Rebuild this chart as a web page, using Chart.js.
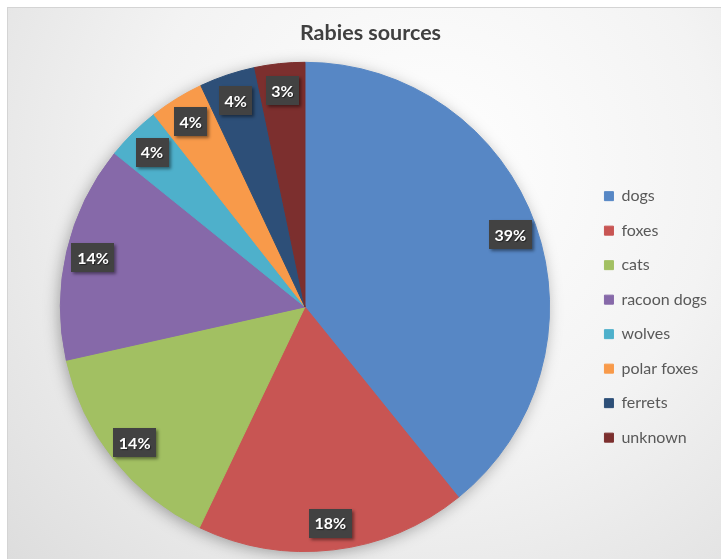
<!DOCTYPE html>
<html>
<head>
<meta charset="utf-8">
<script src="https://cdn.jsdelivr.net/npm/chart.js@4"></script>
<style>
  html, body { margin: 0; padding: 0; background: #ffffff; }
  #wrap { width: 721px; height: 559px; }
</style>
</head>
<body>
<div id="wrap"><canvas id="rabiesChart" width="721" height="559"></canvas></div>
<script>
// Chart data (shares, in percent)
const chartTitle = 'Rabies sources';
const sources = ['dogs', 'foxes', 'cats', 'racoon dogs', 'wolves', 'polar foxes', 'ferrets', 'unknown'];
const shares = [39.2, 17.9, 14.4, 14.3, 3.6, 3.6, 3.7, 3.3];
const sliceColors = ['#5787c5', '#c85553', '#a2c062', '#8669a9', '#4eb0cb', '#f89a4a', '#2d4f78', '#7c2f2e'];

const fontFamily = "Lato, 'Open Sans', sans-serif";

/**
 * Panel background: white page with a soft grey radial gradient frame
 */
const panelBackground = {
    id: 'panelBackground',
    beforeDraw(chart) {
        const { ctx, width, height } = chart;
        ctx.save();
        ctx.fillStyle = '#ffffff';
        ctx.fillRect(0, 0, width, height);
        const g = ctx.createRadialGradient(430, 170, 0, 430, 170, 640);
        g.addColorStop(0, '#ffffff');
        g.addColorStop(0.45, '#f3f3f3');
        g.addColorStop(1, '#d8d8d8');
        ctx.fillStyle = g;
        ctx.fillRect(7.5, 7.5, width, height);
        ctx.strokeStyle = '#d4d4d4';
        ctx.lineWidth = 1;
        ctx.strokeRect(7.5, 7.5, width, height);
        ctx.restore();
    }
};

/**
 * Soft drop shadow under the pie
 */
const pieShadow = {
    id: 'pieShadow',
    beforeDatasetsDraw(chart) {
        const arc = chart.getDatasetMeta(0).data[0];
        if (!arc) return;
        const { x, y, outerRadius } = arc.getProps(['x', 'y', 'outerRadius'], true);
        const ctx = chart.ctx;
        ctx.save();
        ctx.shadowColor = 'rgba(0, 0, 0, 0.35)';
        ctx.shadowBlur = 16;
        ctx.shadowOffsetX = -2;
        ctx.shadowOffsetY = 3;
        ctx.fillStyle = '#999999';
        ctx.beginPath();
        ctx.arc(x, y, outerRadius - 1, 0, Math.PI * 2);
        ctx.fill();
        ctx.restore();
    }
};

/**
 * Percentage labels in dark boxes near the rim of each slice
 */
const sliceLabels = {
    id: 'sliceLabels',
    afterDatasetsDraw(chart) {
        const ctx = chart.ctx;
        const meta = chart.getDatasetMeta(0);
        const values = chart.data.datasets[0].data;
        const total = values.reduce((a, b) => a + b, 0);
        ctx.save();
        ctx.font = 'bold 16px ' + fontFamily;
        ctx.textAlign = 'center';
        ctx.textBaseline = 'middle';
        meta.data.forEach((arc, i) => {
            const { x, y, startAngle, endAngle, outerRadius } =
                arc.getProps(['x', 'y', 'startAngle', 'endAngle', 'outerRadius'], true);
            const mid = (startAngle + endAngle) / 2;
            const lx = x + Math.cos(mid) * outerRadius * 0.89;
            const ly = y + Math.sin(mid) * outerRadius * 0.89;
            const text = Math.round(values[i] / total * 100) + '%';
            const w = Math.round(ctx.measureText(text).width + 11);
            const h = 29;
            ctx.shadowColor = 'rgba(0, 0, 0, 0.45)';
            ctx.shadowBlur = 3;
            ctx.shadowOffsetX = 2;
            ctx.shadowOffsetY = 2;
            ctx.fillStyle = '#424242';
            ctx.fillRect(Math.round(lx - w / 2), Math.round(ly - h / 2), w, h);
            ctx.shadowColor = 'rgba(0, 0, 0, 0.5)';
            ctx.shadowBlur = 1;
            ctx.shadowOffsetX = 1;
            ctx.shadowOffsetY = 1;
            ctx.fillStyle = '#ffffff';
            ctx.fillText(text, lx, ly + 1);
        });
        ctx.restore();
    }
};

const ctx = document.getElementById('rabiesChart').getContext('2d');
const chart = new Chart(ctx, {
    type: 'pie',
    data: {
        labels: sources,
        datasets: [{
            data: shares,
            backgroundColor: sliceColors,
            borderColor: sliceColors,
            borderWidth: 1
        }]
    },
    options: {
        responsive: false,
        animation: false,
        layout: {
            padding: { left: 24, right: 4, top: 0, bottom: 7 }
        },
        plugins: {
            title: {
                display: true,
                text: chartTitle,
                color: '#404040',
                font: { family: fontFamily, size: 21.5, weight: 'bold' },
                padding: { top: 20, bottom: 16 }
            },
            legend: {
                position: 'right',
                fullSize: false,
                title: {
                    display: true,
                    text: ' ',
                    font: { size: 10 },
                    padding: 4
                },
                labels: {
                    boxWidth: 9,
                    boxHeight: 9,
                    padding: 18.5,
                    color: '#595959',
                    font: { family: fontFamily, size: 16 }
                }
            },
            tooltip: { enabled: false }
        }
    },
    plugins: [panelBackground, pieShadow, sliceLabels]
});
</script>
</body>
</html>
